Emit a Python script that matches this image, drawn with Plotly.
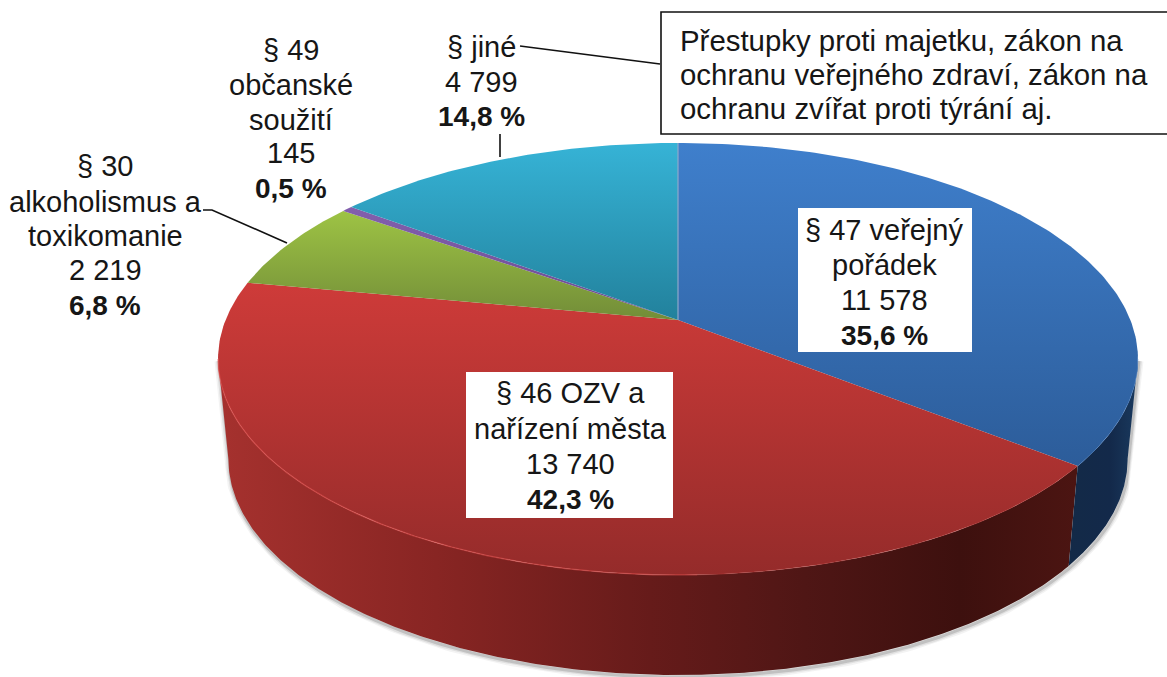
import numpy as np
import plotly.graph_objects as go

# ---- data ----
categories = [["§ 47 veřejný", "pořádek"], ["§ 46 OZV a", "nařízení města"],
              ["§ 30", "alkoholismus a", "toxikomanie"], ["§ 49", "občanské", "soužití"], ["§ jiné"]]
values = [11578, 13740, 2219, 145, 4799]
count_labels = ["11 578", "13 740", "2 219", "145", "4 799"]
percent_labels = ["35,6 %", "42,3 %", "6,8 %", "0,5 %", "14,8 %"]
note_lines = ["Přestupky proti majetku, zákon na", "ochranu veřejného zdraví, zákon na",
              "ochranu zvířat proti týrání aj."]

# ---- style ----
FONT = "Liberation Sans, Arial, sans-serif"
FS = 29
TEXT = "#161616"
face_colors = [("#3F7FCC", "#2C5C99"), ("#CE3B39", "#942B2A"), ("#A0C645", "#728D38"),
               ("#8360AE", "#6A4A90"), ("#36B3D6", "#22819C")]
label_x = [884, 570, 105, 291, 481]
label_y = [[230, 265, 300, 335], [393, 429, 464, 499], [166, 202, 236, 270, 305],
           [50, 85, 120, 153, 188], [47, 82, 116]]
note_y = [40, 74, 108]

# projected disc geometry
CX, APEX_Y, C, D, A = 678.0, 320.0, 0.1806, 452.4, -151.2
S, DEPTH = 0.9775, 100.0
RIGHT_T = np.arccos(-C)
LEFT_T = 2 * np.pi - RIGHT_T


def top(theta):
    den = 1 + C * np.cos(theta)
    return CX + D * np.sin(theta) / den, (A * np.cos(theta) + APEX_Y) / den


def bottom(theta):
    x, y = top(theta)
    return CX + S * (x - CX), y + DEPTH


frac = np.cumsum([0] + values) / sum(values) * 2 * np.pi
fig = go.Figure()


def poly(x, y, grad):
    fig.add_trace(go.Scatter(x=x, y=y, mode="lines", fill="toself", line=dict(width=0),
                             fillgradient=grad, hoverinfo="skip", showlegend=False))


def line(x, y, color, width):
    fig.add_trace(go.Scatter(x=x, y=y, mode="lines", line=dict(color=color, width=width),
                             hoverinfo="skip", showlegend=False))


# soft shadow
sh = np.linspace(RIGHT_T, LEFT_T, 260)
sx, sy = bottom(sh)
tr, tl = top(np.array([RIGHT_T])), top(np.array([LEFT_T]))
sx = np.r_[tr[0], sx, tl[0]]
sy = np.r_[tr[1], sy, tl[1]]
for w, col in [(9, "rgba(90,90,90,0.07)"), (6, "rgba(90,90,90,0.12)"), (3, "rgba(80,80,80,0.22)")]:
    line(sx + 1, sy + 2, col, w)

# sides
red_side = [[0, "#A5312E"], [0.25, "#882523"], [0.5, "#661B1A"], [0.68, "#4F1615"],
            [0.86, "#3D100E"], [1, "#4C1512"]]
blue_side = [[0, "#132A47"], [0.6, "#13294A"], [1, "#1A3B60"]]
t = np.linspace(frac[1], LEFT_T, 260)
tx, ty = top(t)
bx, by = bottom(t)
poly(np.r_[tx, bx[::-1]], np.r_[ty, by[::-1]],
     dict(type="horizontal", colorscale=red_side, start=222, stop=1080))
t = np.linspace(RIGHT_T, frac[1], 120)
tx, ty = top(t)
bx, by = bottom(t)
poly(np.r_[tx, bx[::-1]], np.r_[ty, by[::-1]],
     dict(type="horizontal", colorscale=blue_side, start=1065, stop=1140))

# faces
stops = [(143, 470), (283, 578), (205, 320), (205, 320), (143, 320)]
for i in range(5):
    t = np.linspace(frac[i], frac[i + 1], max(4, int((frac[i + 1] - frac[i]) * 70)))
    x, y = top(t)
    poly(np.r_[CX, x, CX], np.r_[APEX_Y, y, APEX_Y],
         dict(type="vertical", colorscale=[[0, face_colors[i][0]], [1, face_colors[i][1]]],
              start=stops[i][0], stop=stops[i][1]))

# rim highlights
t = np.linspace(np.radians(178), LEFT_T, 160)
x, y = top(t)
line(x, y, "rgba(225,80,78,0.55)", 1.4)
t = np.linspace(frac[1] + 0.02, np.radians(178), 100)
x, y = top(t)
line(x, y, "rgba(200,70,65,0.35)", 1.0)
t = np.linspace(RIGHT_T, frac[1], 60)
x, y = top(t)
line(x, y, "rgba(80,135,205,0.4)", 1.0)
x, y = top(np.array([0.0]))
line([CX, CX], [APEX_Y, y[0]], "#8FA8CC", 1.2)

# leaders
line([520, 660], [46, 64], "#111111", 1.6)
line([500, 500], [134, 157], "#111111", 1.6)
line([203, 212, 287], [210, 210, 243], "#111111", 1.6)

shapes = [
    dict(type="rect", x0=798, x1=972, y0=208, y1=352, fillcolor="white", line=dict(width=0), layer="above"),
    dict(type="rect", x0=466, x1=673, y0=372, y1=518, fillcolor="white", line=dict(width=0), layer="above"),
    dict(type="rect", x0=661, x1=1175, y0=12, y1=134, fillcolor="white",
         line=dict(color="#111111", width=1.6), layer="above"),
]
annotations = []
for i in range(5):
    rows = categories[i] + [count_labels[i], f"<b>{percent_labels[i]}</b>"]
    for row, yy in zip(rows, label_y[i]):
        annotations.append(dict(x=label_x[i], y=yy, xanchor="center", yanchor="middle", showarrow=False,
                                font=dict(family=FONT, size=FS - (1 if "<b>" in row else 0), color=TEXT), text=row))
for row, yy in zip(note_lines, note_y):
    annotations.append(dict(x=678, y=yy, xanchor="left", yanchor="middle", showarrow=False,
                            font=dict(family=FONT, size=29.4, color=TEXT), text=row))

fig.update_layout(
    width=1167, height=677, autosize=False, margin=dict(l=0, r=0, t=0, b=0),
    paper_bgcolor="white", plot_bgcolor="white", showlegend=False,
    xaxis=dict(range=[0, 1167], visible=False, fixedrange=True),
    yaxis=dict(range=[677, 0], visible=False, fixedrange=True),
    shapes=shapes, annotations=annotations,
)
fig.write_html("out.html", config=dict(displayModeBar=False),
               post_script="document.body.style.margin='0';document.documentElement.style.overflow='hidden';")
